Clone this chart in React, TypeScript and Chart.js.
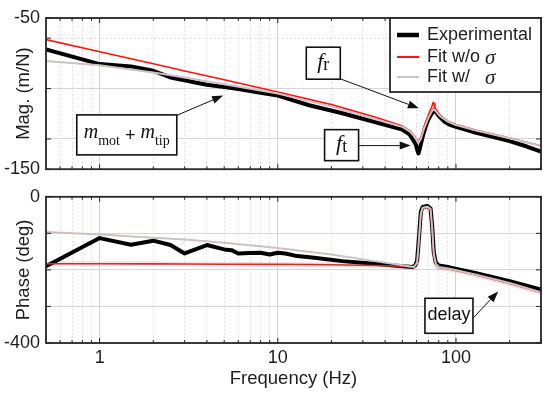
import React, { useEffect, useRef } from 'react';
import { Chart, registerables } from 'chart.js';

Chart.register(...registerables);

const SANS = '"Liberation Sans", Arial, Helvetica, sans-serif';
const SERIF = '"Liberation Serif", "Times New Roman", serif';
const INK = '#1e1e1e';

// ---------- Magnitude panel data ----------
const expMagFreq = [0.5, 1, 1.5, 2, 2.5, 3, 3.5, 4, 5, 6, 7, 8, 10, 15, 23, 35, 50, 55, 57, 59.5, 60.5, 61.6, 62.5, 63.5, 64.5, 67.7, 70, 72.3, 75.5, 77.5, 80.5, 86, 91.6, 100, 130, 200, 250, 300];
const expMag = [-70.8, -80.5, -82.0, -84.9, -89.3, -91.2, -92.8, -94.2, -95.7, -97.0, -98.3, -99.5, -101.3, -107.7, -113.0, -118.8, -123.8, -127.1, -130, -133.6, -137, -139.6, -137, -133.6, -130, -121.6, -117, -114.1, -110.8, -112.5, -115.1, -118.5, -120.5, -122, -126, -131.4, -135, -138.3];

const fitMagFreq = [0.5, 1, 2, 3, 5, 10, 20, 35, 50, 55, 58, 60, 61.8, 63.5, 66, 70, 73, 74.5, 75.3, 76.2, 78, 82, 90, 100, 130, 200, 300];
const fitNoSigmaMag = [-64.3, -72.3, -80.3, -85.0, -90.9, -98.9, -107.3, -115.5, -121.5, -124.5, -127.5, -130, -131.5, -129, -122, -114, -109, -105.8, -106.5, -109, -111.5, -114.8, -118.2, -120.5, -124.3, -129.4, -134.5];
const fitSigmaMag = [-78.4, -81.2, -86.0, -89.3, -93.8, -100, -108.5, -116.8, -122, -125, -128, -130.5, -132.3, -130, -123.5, -116, -112, -110.6, -110.5, -111, -112.5, -115.3, -118.5, -120.8, -124.5, -129.5, -134.6];

// ---------- Phase panel data ----------
const expPhaseFreq = [0.5, 1, 1.5, 2, 2.5, 3, 4, 5, 5.5, 6, 7, 8, 9, 10, 11, 12.5, 16, 23, 35, 50, 57, 59, 60.5, 62, 63.5, 65, 69, 72, 73.5, 75, 77, 80, 92, 130, 200, 300];
const expPhase = [-190, -113, -131, -120, -132, -155, -132, -144, -146, -155, -154, -153, -158, -153, -155, -161, -167, -176, -183, -190, -192, -188, -175, -110, -40, -28, -25, -32, -80, -150, -180, -188, -193, -209, -231, -254];

const fitPhaseFreq = [0.5, 1, 2, 3, 5, 10, 20, 35, 50, 58, 60.5, 62, 63.5, 65, 69, 72, 73.5, 75, 77, 80, 92, 130, 200, 300];
const fitNoSigmaPhase = [-183, -183, -183.5, -184, -184.5, -185, -186, -188, -190, -193, -182, -118, -48, -32, -29, -36, -90, -158, -184, -193, -198, -214, -237, -262];
const fitSigmaPhase = [-96, -103, -112, -117, -126, -140, -158, -176, -187, -192, -180, -115, -45, -30, -27, -33, -85, -155, -183, -192, -197, -213, -236, -261];

// ---------- Axes ----------
const xTickValues = [0.6, 0.7, 0.8, 0.9, 1, 2, 3, 4, 5, 6, 7, 8, 9, 10, 20, 30, 40, 50, 60, 70, 80, 90, 100, 200, 300];
const xLabelValues = [1, 10, 100];
const magTickValues = [-150, -130, -96.67, -63.33, -50];
const magLabelValues = [-150, -50];
const magMinorValues = [-63.33];
const phaseTickValues = [-400, -300, -200, -100, 0];
const phaseLabelValues = [-400, 0];

const seriesLabels = ['Experimental', 'Fit w/o σ', 'Fit w/   σ'];
const seriesColors = ['#000000', '#ff1414', '#cdc2c2'];
const phaseRed = '#c0392b';
const seriesWidths = [4, 1.6, 2];

const pts = (xs: number[], ys: number[]) => xs.map((x, i) => ({ x, y: ys[i] }));

type Part = { t: string; font: string; dy: number };
type Note = { at: [number, number]; w: number; h: number; parts: Part[] };
type Arrow = { from: [number, number]; to: [number, number] };

const italicM = `italic 20px ${SERIF}`;
const subSmall = `14px ${SERIF}`;
const magNotes: Note[] = [
  { at: [18.0, -79.9], w: 34, h: 32, parts: [{ t: 'f', font: `italic 22px ${SERIF}`, dy: 5 }, { t: 'r', font: `18px ${SERIF}`, dy: 7 }] },
  { at: [22.8, -134.1], w: 34, h: 31, parts: [{ t: 'f', font: `italic 22px ${SERIF}`, dy: 5 }, { t: 't', font: `18px ${SERIF}`, dy: 7 }] },
  {
    at: [1.42, -127.3], w: 100, h: 40, parts: [
      { t: 'm', font: italicM, dy: 3 }, { t: 'mot', font: subSmall, dy: 10 },
      { t: ' + ', font: `18px ${SANS}`, dy: 6 },
      { t: 'm', font: italicM, dy: 3 }, { t: 'tip', font: subSmall, dy: 10 },
    ],
  },
];
const magArrows: Arrow[] = [
  { from: [22.5, -90.3], to: [61.9, -109.7] },
  { from: [28.4, -134.4], to: [55.7, -134.4] },
  { from: [2.65, -114.9], to: [4.93, -101.3] },
];
const phaseNotes: Note[] = [
  { at: [91.3, -325.5], w: 48, h: 35, parts: [{ t: 'delay', font: `18px ${SANS}`, dy: 4 }] },
];
const phaseArrows: Arrow[] = [
  { from: [124.7, -332], to: [172.5, -258.8] },
];

function drawArrow(ctx: CanvasRenderingContext2D, x1: number, y1: number, x2: number, y2: number) {
  const ang = Math.atan2(y2 - y1, x2 - x1);
  const hl = 11, hw = 4;
  const bx = x2 - hl * Math.cos(ang), by = y2 - hl * Math.sin(ang);
  ctx.beginPath();
  ctx.moveTo(x1, y1);
  ctx.lineTo(bx, by);
  ctx.stroke();
  ctx.beginPath();
  ctx.moveTo(x2, y2);
  ctx.lineTo(bx + hw * Math.sin(ang), by - hw * Math.cos(ang));
  ctx.lineTo(bx - hw * Math.sin(ang), by + hw * Math.cos(ang));
  ctx.closePath();
  ctx.fill();
}

const notesPlugin = {
  id: 'notes',
  afterDraw(chart: any, _args: any, opts: any) {
    const { ctx, scales } = chart;
    const xs = scales.x, ys = scales.y;
    ctx.save();
    ctx.strokeStyle = '#111';
    ctx.fillStyle = '#111';
    ctx.lineWidth = 1;
    (opts.arrows || []).forEach((a: Arrow) => {
      drawArrow(ctx, xs.getPixelForValue(a.from[0]), ys.getPixelForValue(a.from[1]), xs.getPixelForValue(a.to[0]), ys.getPixelForValue(a.to[1]));
    });
    (opts.notes || []).forEach((n: Note) => {
      const cx = xs.getPixelForValue(n.at[0]);
      const cy = ys.getPixelForValue(n.at[1]);
      ctx.fillStyle = '#fff';
      ctx.fillRect(cx - n.w / 2, cy - n.h / 2, n.w, n.h);
      ctx.strokeStyle = '#111';
      ctx.lineWidth = 1.6;
      ctx.strokeRect(cx - n.w / 2, cy - n.h / 2, n.w, n.h);
      let total = 0;
      n.parts.forEach((p) => { ctx.font = p.font; total += ctx.measureText(p.t).width; });
      let x = cx - total / 2;
      ctx.fillStyle = '#111';
      ctx.textBaseline = 'alphabetic';
      ctx.textAlign = 'left';
      n.parts.forEach((p) => {
        ctx.font = p.font;
        ctx.fillText(p.t, x, cy + p.dy);
        x += ctx.measureText(p.t).width;
      });
    });
    ctx.restore();
  },
};

const framePlugin = {
  id: 'frame',
  afterDatasetsDraw(chart: any) {
    const { ctx, chartArea: a, scales } = chart;
    ctx.save();
    ctx.strokeStyle = '#262626';
    ctx.lineWidth = 1;
    const seg = (x1: number, y1: number, x2: number, y2: number) => {
      ctx.beginPath(); ctx.moveTo(x1, y1); ctx.lineTo(x2, y2); ctx.stroke();
    };
    scales.x.ticks.forEach((t: any) => {
      const px = scales.x.getPixelForValue(t.value);
      const len = xLabelValues.includes(t.value) ? 5 : 3;
      seg(px, a.bottom, px, a.bottom - len);
      seg(px, a.top, px, a.top + len);
    });
    scales.y.ticks.forEach((t: any) => {
      const py = scales.y.getPixelForValue(t.value);
      seg(a.left, py, a.left + 5, py);
      seg(a.right, py, a.right - 5, py);
    });
    ctx.lineWidth = 1.8;
    ctx.strokeRect(a.left, a.top, a.right - a.left, a.bottom - a.top);
    ctx.restore();
  },
};

const legendPlugin = {
  id: 'boxLegend',
  afterDraw(chart: any) {
    const { ctx, chartArea: a } = chart;
    const w = 151, h = 74;
    const x0 = a.right - w, y0 = a.top;
    const rows = [17, 39, 59];
    ctx.save();
    ctx.fillStyle = '#fff';
    ctx.fillRect(x0, y0, w, h);
    ctx.strokeStyle = '#262626';
    ctx.lineWidth = 1.8;
    ctx.strokeRect(x0, y0, w, h);
    chart.data.datasets.forEach((ds: any, i: number) => {
      if (!ds.label) return;
      const y = y0 + rows[i];
      ctx.strokeStyle = ds.borderColor;
      ctx.lineWidth = i === 0 ? 4.5 : 2;
      ctx.beginPath(); ctx.moveTo(x0 + 7, y); ctx.lineTo(x0 + 29, y); ctx.stroke();
      const idx = ds.label.indexOf('σ');
      const main = idx >= 0 ? ds.label.slice(0, idx) : ds.label;
      let x = x0 + 37;
      ctx.fillStyle = INK;
      ctx.textBaseline = 'middle';
      ctx.textAlign = 'left';
      ctx.font = `18px ${SANS}`;
      ctx.fillText(main, x, y);
      x += ctx.measureText(main).width;
      if (idx >= 0) {
        ctx.font = `italic 21px ${SERIF}`;
        ctx.fillText('σ', x, y + 1);
      }
    });
    ctx.restore();
  },
};

function xScale(showLabels: boolean) {
  return {
    type: 'logarithmic',
    min: 0.5,
    max: 300,
    afterBuildTicks: (s: any) => { s.ticks = xTickValues.map((v) => ({ value: v })); },
    afterFit: (s: any) => { s.height = showLabels ? 50 : 0; },
    ticks: {
      display: showLabels,
      autoSkip: false,
      maxRotation: 0,
      padding: 4,
      color: INK,
      font: { family: SANS, size: 18 },
      callback: (v: any) => (xLabelValues.includes(Number(v)) ? String(v) : ''),
    },
    grid: {
      drawTicks: false,
      lineWidth: 1,
      color: (c: any) => (xLabelValues.includes(c.tick?.value) ? '#d2d2d2' : '#d8d8d8'),
    },
    border: {
      display: false,
      dash: (c: any) => (xLabelValues.includes(c.tick?.value) ? [] : [1.5, 2.5]),
    },
    title: showLabels
      ? { display: true, text: 'Frequency (Hz)', color: INK, font: { family: SANS, size: 18.5 }, padding: { top: 0, bottom: 3 } }
      : { display: false },
  };
}

function yScale(min: number, max: number, tickVals: number[], labelVals: number[], minorVals: number[], title: string) {
  return {
    type: 'linear',
    min,
    max,
    afterBuildTicks: (s: any) => { s.ticks = tickVals.map((v) => ({ value: v })); },
    afterFit: (s: any) => { s.width = 46; },
    ticks: {
      autoSkip: false,
      padding: 6,
      color: INK,
      font: { family: SANS, size: 18 },
      callback: (v: any) => (labelVals.includes(Number(v)) ? String(v) : ''),
    },
    grid: { drawTicks: false, color: '#d6d6d6', lineWidth: 1 },
    border: {
      display: false,
      dash: (c: any) => (minorVals.includes(c.tick?.value) ? [1.5, 2.5] : []),
    },
    title: { display: true, text: title, color: INK, font: { family: SANS, size: 18.5 }, padding: { top: 13, bottom: 0 } },
  };
}

const lineBase = { pointRadius: 0, tension: 0, fill: false, borderJoinStyle: 'round', borderCapStyle: 'round' };

export default function App() {
  const topRef = useRef<HTMLCanvasElement>(null);
  const botRef = useRef<HTMLCanvasElement>(null);

  useEffect(() => {
    const top = new Chart(topRef.current as HTMLCanvasElement, {
      type: 'line',
      data: {
        datasets: [
          { ...lineBase, label: seriesLabels[0], data: pts(expMagFreq, expMag), borderColor: seriesColors[0], borderWidth: seriesWidths[0], order: 3 },
          { ...lineBase, label: seriesLabels[1], data: pts(fitMagFreq, fitNoSigmaMag), borderColor: seriesColors[1], borderWidth: seriesWidths[1], order: 2 },
          { ...lineBase, label: seriesLabels[2], data: pts(fitMagFreq, fitSigmaMag), borderColor: seriesColors[2], borderWidth: seriesWidths[2], order: 1 },
        ],
      } as any,
      options: {
        responsive: false,
        animation: false,
        devicePixelRatio: 1,
        layout: { padding: { left: 0, right: 9, top: 18, bottom: 14 } },
        scales: {
          x: xScale(false),
          y: yScale(-150, -50, magTickValues, magLabelValues, magMinorValues, 'Mag. (m/N)'),
        } as any,
        plugins: {
          legend: { display: false },
          tooltip: { enabled: false },
          notes: { notes: magNotes, arrows: magArrows },
        } as any,
      },
      plugins: [framePlugin, notesPlugin, legendPlugin],
    });

    const bot = new Chart(botRef.current as HTMLCanvasElement, {
      type: 'line',
      data: {
        datasets: [
          { ...lineBase, label: seriesLabels[0], data: pts(expPhaseFreq, expPhase), borderColor: seriesColors[0], borderWidth: seriesWidths[0], order: 3 },
          { ...lineBase, label: seriesLabels[1], data: pts(fitPhaseFreq, fitNoSigmaPhase), borderColor: phaseRed, borderWidth: seriesWidths[1], order: 2 },
          { ...lineBase, label: seriesLabels[2], data: pts(fitPhaseFreq, fitSigmaPhase), borderColor: seriesColors[2], borderWidth: seriesWidths[2], order: 1 },
          { ...lineBase, label: '', data: pts(fitPhaseFreq, fitNoSigmaPhase), borderColor: 'rgba(255,160,185,0.35)', borderWidth: 5, order: 4 },
        ],
      } as any,
      options: {
        responsive: false,
        animation: false,
        devicePixelRatio: 1,
        layout: { padding: { left: 0, right: 9, top: 10, bottom: 0 } },
        scales: {
          x: xScale(true),
          y: yScale(-400, 0, phaseTickValues, phaseLabelValues, [], 'Phase (deg)'),
        } as any,
        plugins: {
          legend: { display: false },
          tooltip: { enabled: false },
          notes: { notes: phaseNotes, arrows: phaseArrows },
        } as any,
      },
      plugins: [framePlugin, notesPlugin],
    });

    return () => {
      top.destroy();
      bot.destroy();
    };
  }, []);

  return (
    <div style={{ position: 'absolute', left: 0, top: 0, width: 550, height: 393, background: '#fff', overflow: 'hidden' }}>
      <canvas ref={topRef} width={550} height={186} style={{ position: 'absolute', left: 0, top: 0, width: 550, height: 186 }} />
      <canvas ref={botRef} width={550} height={213} style={{ position: 'absolute', left: 0, top: 180, width: 550, height: 213 }} />
    </div>
  );
}
